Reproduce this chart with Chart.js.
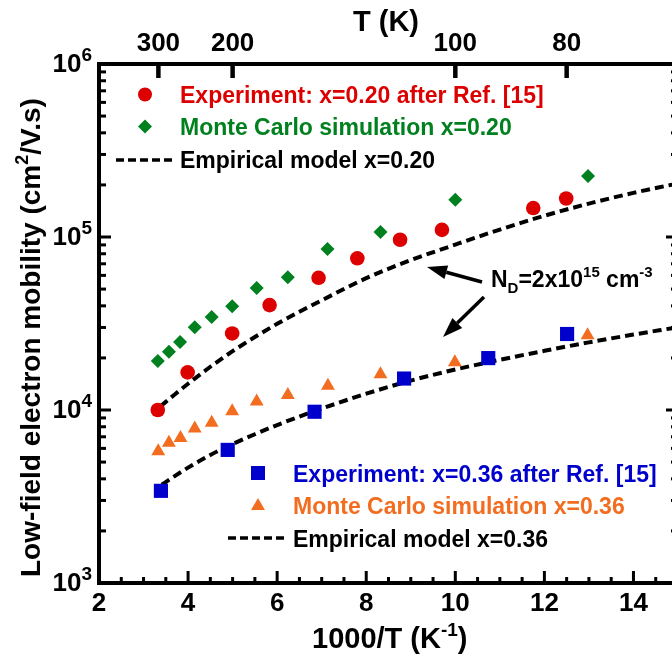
<!DOCTYPE html>
<html>
<head>
<meta charset="utf-8">
<script src="https://cdn.jsdelivr.net/npm/chart.js@4.4.1/dist/chart.umd.min.js"></script>
<style>
html, body { margin: 0; padding: 0; overflow: hidden; background: #fff; }
#wrap { position: relative; width: 690px; height: 657px; }
</style>
</head>
<body>
<div id="wrap"><canvas id="chart" width="690" height="657"></canvas></div>
<script>
"use strict";

const FONT = "'Liberation Sans', Arial, sans-serif";

// x = 1000/T (1/K), y = low-field mobility (cm2/V.s)

// x=0.20
const expX20 = [3.32, 3.99, 4.99, 5.83, 6.93, 7.80, 8.76, 9.70, 11.75, 12.49];
const expY20 = [10000, 16500, 27700, 40400, 58100, 75300, 96400, 110000, 147000, 167000];
const mcX20 = [3.32, 3.57, 3.82, 4.15, 4.53, 4.99, 5.54, 6.24, 7.13, 8.32, 10.00, 12.98];
const mcY20 = [19200, 21700, 24700, 30100, 34500, 39800, 50800, 58600, 85100, 107000, 164000, 225000];
const modX20 = [3.38, 3.7, 4.0, 4.5, 5.0, 5.5, 6.0, 6.5, 7.0, 8.0, 9.0, 10.0, 11.0, 12.0, 13.0, 14.0, 14.87];
const modY20 = [10500, 12300, 14190, 17780, 21880, 26420, 31480, 36980, 43050, 57810, 73450, 90360, 110400, 132700, 156000, 179900, 200900];

// x=0.36
const expX36 = [3.39, 4.89, 6.84, 8.85, 10.74, 12.51];
const expY36 = [3410, 5880, 9770, 15200, 19950, 27500];
const mcX36 = [3.33, 3.57, 3.83, 4.15, 4.53, 4.99, 5.54, 6.24, 7.14, 8.32, 9.99, 12.97];
const mcY36 = [5770, 6460, 6900, 7820, 8440, 9840, 11200, 12200, 13800, 16100, 18900, 27000];
const modX36 = [3.41, 3.7, 4.0, 4.5, 5.0, 5.5, 6.0, 6.5, 7.0, 8.0, 9.0, 10.0, 11.0, 12.0, 13.0, 14.0, 14.87];
const modY36 = [3698, 4150, 4645, 5495, 6353, 7244, 8185, 9162, 10190, 12420, 14790, 17140, 19500, 21980, 24600, 27290, 29720];

// axis ticks
const xTicks = [2, 4, 6, 8, 10, 12, 14];
const tTicks = [300, 200, 100, 80];
const yDecades = [3, 4, 5, 6];

const RED = '#dd0000', GREEN = '#00801e', BLUE = '#0000cc', ORANGE = '#f26d1f';

function pts(xs, ys) {
    return xs.map((x, i) => ({x: x, y: ys[i]}));
}

function markerSet(label, xs, ys, color, style, r) {
    return {
        label: label, data: pts(xs, ys), showLine: false,
        pointStyle: style, pointRadius: r,
        pointBackgroundColor: color, pointBorderColor: color, pointBorderWidth: 0,
        order: 1
    };
}

function modelSet(label, xs, ys) {
    return {
        label: label, data: pts(xs, ys), showLine: true,
        borderColor: '#000', borderWidth: 4, borderDash: [9, 5],
        pointRadius: 0, cubicInterpolationMode: 'monotone', fill: false,
        order: 2
    };
}

// text with sub/superscripts, parts = [[text, kind]], kind 1 = sup, -1 = sub
function richText(ctx, parts, x, y, size, color) {
    const small = Math.round(size * 0.66);
    ctx.fillStyle = color;
    ctx.textAlign = 'left';
    ctx.textBaseline = 'alphabetic';
    let cx = x;
    parts.forEach(function(p) {
        const kind = p[1] || 0;
        ctx.font = 'bold ' + (kind ? small : size) + 'px ' + FONT;
        let dy = 0;
        if (kind === 1) dy = -size * 0.42;
        if (kind === -1) dy = size * 0.28;
        ctx.fillText(p[0], cx, y + dy);
        cx += ctx.measureText(p[0]).width;
    });
    return cx - x;
}

function drawMarker(ctx, style, x, y, r, color) {
    ctx.fillStyle = color;
    ctx.beginPath();
    if (style === 'circle') {
        ctx.arc(x, y, r, 0, Math.PI * 2);
    } else if (style === 'diamond') {
        ctx.moveTo(x, y - r); ctx.lineTo(x + r, y); ctx.lineTo(x, y + r); ctx.lineTo(x - r, y);
    } else if (style === 'square') {
        ctx.rect(x - r, y - r, 2 * r, 2 * r);
    } else {
        ctx.moveTo(x, y - r); ctx.lineTo(x + r * 0.87, y + r * 0.5); ctx.lineTo(x - r * 0.87, y + r * 0.5);
    }
    ctx.closePath();
    ctx.fill();
}

function dashSample(ctx, x1, x2, y) {
    ctx.save();
    ctx.strokeStyle = '#000';
    ctx.lineWidth = 3.5;
    ctx.setLineDash([8, 4]);
    ctx.beginPath();
    ctx.moveTo(x1, y); ctx.lineTo(x2, y);
    ctx.stroke();
    ctx.restore();
}

function arrow(ctx, x1, y1, x2, y2) {
    const a = Math.atan2(y2 - y1, x2 - x1);
    const hl = 20, hw = 7;
    const bx = x2 - hl * Math.cos(a), by = y2 - hl * Math.sin(a);
    ctx.strokeStyle = '#000';
    ctx.fillStyle = '#000';
    ctx.lineWidth = 3.5;
    ctx.beginPath();
    ctx.moveTo(x1, y1); ctx.lineTo(bx, by);
    ctx.stroke();
    ctx.beginPath();
    ctx.moveTo(x2, y2);
    ctx.lineTo(bx + hw * Math.sin(a), by - hw * Math.cos(a));
    ctx.lineTo(bx - hw * Math.sin(a), by + hw * Math.cos(a));
    ctx.closePath();
    ctx.fill();
}

function seg(ctx, x1, y1, x2, y2, w) {
    ctx.lineWidth = w;
    ctx.beginPath();
    ctx.moveTo(x1, y1); ctx.lineTo(x2, y2);
    ctx.stroke();
}

// inward ticks, y labels, titles, legends and the N_D note
const decorations = {
    id: 'decorations',
    afterDraw: function(chart) {
        const ctx = chart.ctx;
        const area = chart.chartArea;
        const xs = chart.scales.x, ys = chart.scales.y;
        ctx.save();
        ctx.strokeStyle = '#000';

        // left / right log ticks
        yDecades.forEach(function(e) {
            for (let m = 1; m <= 9; m++) {
                const v = m * Math.pow(10, e);
                if (v > 1e6) break;
                const py = ys.getPixelForValue(v);
                const len = m === 1 ? 12 : 7;
                seg(ctx, area.left, py, area.left + len, py, 3);
                seg(ctx, area.right, py, area.right - len, py, 3);
            }
        });

        // bottom ticks every 0.5
        for (let v = 2.5; v < 15; v += 0.5) {
            const px = xs.getPixelForValue(v);
            const len = v % 2 === 0 ? 12 : 6;
            seg(ctx, px, area.bottom, px, area.bottom - len, 3);
        }

        // top T ticks
        tTicks.forEach(function(t) {
            const px = xs.getPixelForValue(1000 / t);
            seg(ctx, px, area.top, px, area.top + 14, 4.5);
        });

        // y tick labels 10^n
        yDecades.forEach(function(e) {
            const py = ys.getPixelForValue(Math.pow(10, e));
            ctx.font = 'bold 19px ' + FONT;
            const ws = ctx.measureText(String(e)).width;
            ctx.font = 'bold 26px ' + FONT;
            const wb = ctx.measureText('10').width;
            const x0 = 92 - ws - wb;
            ctx.fillStyle = '#000';
            ctx.textAlign = 'left';
            ctx.textBaseline = 'alphabetic';
            ctx.fillText('10', x0, py + 8);
            ctx.font = 'bold 19px ' + FONT;
            ctx.fillText(String(e), x0 + wb, py - 3);
        });

        // axis titles
        ctx.font = 'bold 29px ' + FONT;
        ctx.textAlign = 'center';
        ctx.textBaseline = 'alphabetic';
        ctx.fillStyle = '#000';
        ctx.fillText('T (K)', 386, 31);

        richText(ctx, [['1000/T (K'], ['-1', 1], [')']], 312, 648, 29, '#000');

        ctx.save();
        ctx.translate(40, 577);
        ctx.rotate(-Math.PI / 2);
        richText(ctx, [['Low-field electron mobility (cm'], ['2', 1], ['/V.s)']], 0, 0, 28, '#000');
        ctx.restore();

        // legend x=0.20
        drawMarker(ctx, 'circle', 145, 94.5, 7, RED);
        richText(ctx, [['Experiment: x=0.20 after Ref. [15]']], 180, 103, 23, RED);
        drawMarker(ctx, 'diamond', 145, 126.5, 7, GREEN);
        richText(ctx, [['Monte Carlo simulation x=0.20']], 180, 135, 23, GREEN);
        dashSample(ctx, 116, 176, 160);
        richText(ctx, [['Empirical model x=0.20']], 180, 168, 23, '#000');

        // legend x=0.36
        drawMarker(ctx, 'square', 258, 473, 7, BLUE);
        richText(ctx, [['Experiment: x=0.36 after Ref. [15]']], 293, 481.5, 23, BLUE);
        drawMarker(ctx, 'triangle', 258, 506, 8, ORANGE);
        richText(ctx, [['Monte Carlo simulation x=0.36']], 293, 513.5, 23, ORANGE);
        dashSample(ctx, 228, 288, 538);
        richText(ctx, [['Empirical model x=0.36']], 293, 546.5, 23, '#000');

        // doping note with arrows
        richText(ctx, [['N'], ['D', -1], ['=2x10'], ['15', 1], [' cm'], ['-3', 1]], 491, 287, 23, '#000');
        arrow(ctx, 482, 282, 427, 267);
        arrow(ctx, 484, 297, 443, 337);

        ctx.restore();
    }
};

const tickFont = {family: FONT, size: 26, weight: 'bold'};

new Chart(document.getElementById('chart'), {
    type: 'scatter',
    data: {
        datasets: [
            markerSet('Experiment: x=0.20 after Ref. [15]', expX20, expY20, RED, 'circle', 7.3),
            markerSet('Monte Carlo simulation x=0.20', mcX20, mcY20, GREEN, 'rectRot', 7),
            modelSet('Empirical model x=0.20', modX20, modY20),
            markerSet('Experiment: x=0.36 after Ref. [15]', expX36, expY36, BLUE, 'rect', 10),
            markerSet('Monte Carlo simulation x=0.36', mcX36, mcY36, ORANGE, 'triangle', 8),
            modelSet('Empirical model x=0.36', modX36, modY36)
        ]
    },
    options: {
        responsive: false,
        animation: false,
        events: [],
        layout: {padding: 0},
        plugins: {legend: {display: false}, tooltip: {enabled: false}},
        scales: {
            x: {
                type: 'linear', position: 'bottom', min: 2, max: 15,
                afterBuildTicks: function(s) { s.ticks = xTicks.map(v => ({value: v})); },
                afterFit: function(s) { s.height = 74; },
                ticks: {color: '#000', font: tickFont, padding: 5, autoSkip: false, maxRotation: 0},
                grid: {display: false, drawTicks: false},
                border: {display: true, color: '#000', width: 4}
            },
            x2: {
                type: 'linear', position: 'top', min: 2, max: 15,
                afterBuildTicks: function(s) { s.ticks = tTicks.map(t => ({value: 1000 / t})); },
                afterFit: function(s) { s.height = 64; },
                ticks: {
                    color: '#000', font: tickFont, padding: 5, autoSkip: false, maxRotation: 0,
                    callback: function(v) { return Math.round(1000 / v); }
                },
                grid: {display: false, drawTicks: false},
                border: {display: true, color: '#000', width: 4}
            },
            y: {
                type: 'logarithmic', position: 'left', min: 1e3, max: 1e6,
                afterFit: function(s) { s.width = 99; },
                ticks: {display: false},
                grid: {display: false, drawTicks: false},
                border: {display: true, color: '#000', width: 4}
            },
            y2: {
                type: 'logarithmic', position: 'right', min: 1e3, max: 1e6,
                afterFit: function(s) { s.width = 12; },
                ticks: {display: false},
                grid: {display: false, drawTicks: false},
                border: {display: true, color: '#000', width: 4}
            }
        }
    },
    plugins: [decorations]
});
</script>
</body>
</html>
